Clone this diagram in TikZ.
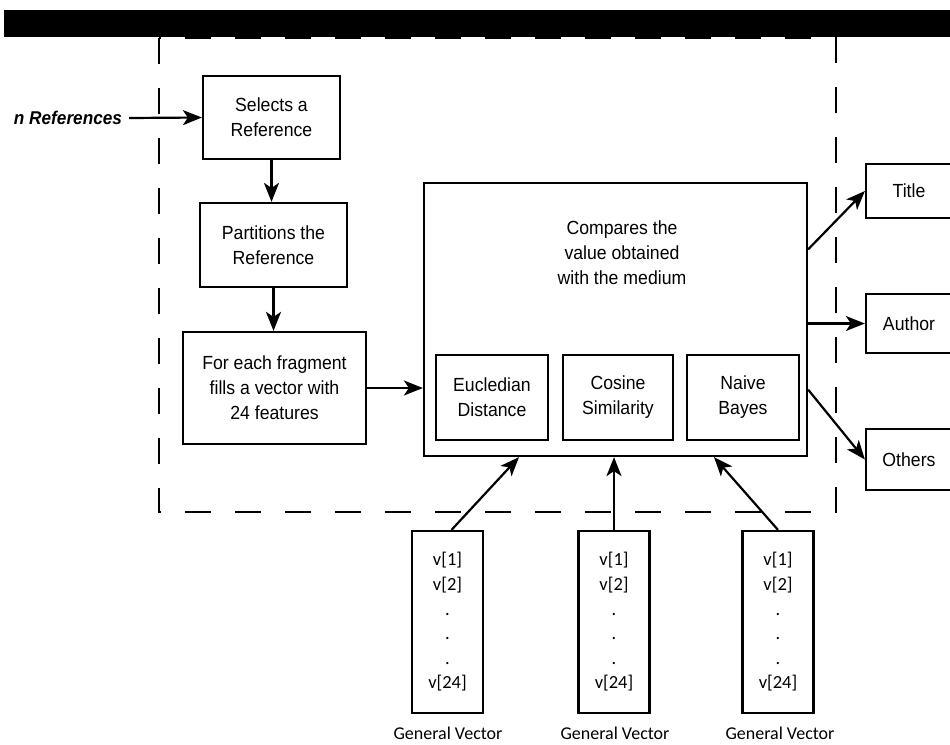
\documentclass[tikz,border=0pt]{standalone}
\usepackage{fontspec}
\setmainfont{Liberation Sans}[FakeStretch=0.93]
\newfontfamily\carlito{Carlito}
\usetikzlibrary{arrows.meta,calc}

\begin{document}
\begin{tikzpicture}[x=1pt, y=-1pt, >={Stealth[length=19pt,width=15pt,inset=5pt]},
  box/.style={draw, line width=2.2pt, align=center, inner sep=0pt, font=\fontsize{19}{25}\selectfont},
  arr/.style={->, line width=2.2pt},
  vecbox/.style={draw, line width=2.2pt, align=center, inner sep=0pt, minimum width=71pt, minimum height=182pt, font=\carlito\fontsize{18.5}{24.6}\selectfont},
  veclabel/.style={anchor=base, font=\carlito\fontsize{18}{20}\selectfont}]
\useasboundingbox (0,0) rectangle (950,744);
\fill (4,10) rectangle (950,37);
\draw[line width=2.2pt, dash pattern=on 26pt off 24pt] (159,38) rectangle (836,512);

\node[inner sep=0pt, font=\bfseries\itshape\fontsize{18.5}{22}\selectfont] (nref) at (68,118) {n References};
\node[box, minimum width=137pt, minimum height=83pt] (sel) at (271.5,117.5) {Selects a\\Reference};
\node[box, minimum width=147pt, minimum height=84pt] (part) at (273.5,245) {Partitions the\\Reference};
\node[box, minimum width=183pt, minimum height=112pt] (frag) at (274.5,388) {For each fragment\\fills a vector with\\24 features};

\node[box, minimum width=383pt, minimum height=273pt] (cmp) at (615.5,319.5) {};
\node[align=center, font=\fontsize{19}{25}\selectfont] (cmptxt) at (622,253) {Compares the\\value obtained\\with the medium};
\node[box, minimum width=112pt, minimum height=85pt] (euc) at (492,397.5) {Eucledian\\Distance};
\node[box, minimum width=110pt, minimum height=85pt] (cos) at (618,397.5) {Cosine\\Similarity};
\node[box, minimum width=112pt, minimum height=85pt] (nb) at (743,397.5) {Naive\\Bayes};

\node[box, minimum width=86pt, minimum height=54pt] (title) at (909,191) {Title};
\node[box, minimum width=86pt, minimum height=59pt] (author) at (909,323.5) {Author};
\node[box, minimum width=86pt, minimum height=61pt] (others) at (909,459.5) {Others};

\node[vecbox] (vec1) at (447.5,622) {v[1]\\v[2]\\.\\.\\.\\v[24]};
\node[vecbox] (vec2) at (614,622) {v[1]\\v[2]\\.\\.\\.\\v[24]};
\node[vecbox] (vec3) at (778,622) {v[1]\\v[2]\\.\\.\\.\\v[24]};
\node[veclabel] (lab1) at (448,739) {General Vector};
\node[veclabel] (lab2) at (615,739) {General Vector};
\node[veclabel] (lab3) at (780,739) {General Vector};

\draw[arr] ([xshift=7pt]nref.east) -- (sel.west);
\draw[arr] (sel.south) -- (sel.south |- part.north);
\draw[arr] (part.south) -- (part.south |- frag.north);
\draw[arr] (frag.east) -- (cmp.west |- frag.east);
\draw[arr] (cmp.20) -- (title.west);
\draw[arr] (cmp.east |- author.west) -- (author.west);
\draw[arr] (cmp.-20) -- (others.west);
\draw[arr] ([xshift=4pt]vec1.north) -- ($(cmp.south -| euc.south)+(27,0)$);
\draw[arr] (vec2.north) -- (cmp.south -| vec2.north);
\draw[arr] (vec3.north) -- ($(cmp.south -| nb.south)+(-29,0)$);
\end{tikzpicture}
\end{document}
